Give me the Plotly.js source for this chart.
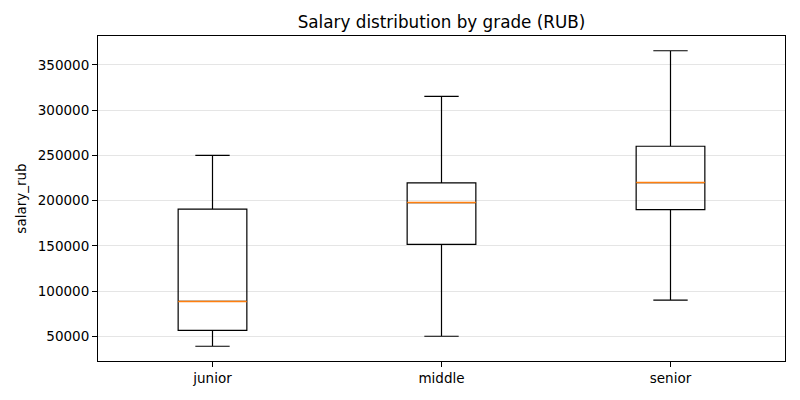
<!DOCTYPE html>
<html>
<head>
<meta charset="utf-8">
<script src="https://cdn.plot.ly/plotly-3.0.1.min.js"></script>
<style>
  html, body { margin: 0; padding: 0; background: #fff; }
  #chart { width: 800px; height: 400px; }
</style>
</head>
<body>
<div id="chart"></div>
<script>
(function() {
    'use strict';

    // Box statistics per grade
    var grades = ['junior', 'middle', 'senior'];
    var positions = [1, 2, 3];
    var lowerWhisker = [39000, 50000, 90000];
    var q1 = [56600, 151500, 190000];
    var median = [88500, 197800, 219900];
    var q3 = [190400, 219500, 260000];
    var upperWhisker = [250000, 315000, 365500];

    var boxWidth = 0.3;
    var font = { family: 'DejaVu Sans, sans-serif', size: 13.5, color: '#000000' };

    // Orange median segments drawn on top of the boxes
    var medX = [], medY = [];
    positions.forEach(function(p, i) {
        medX.push(p - boxWidth / 2, p + boxWidth / 2, null);
        medY.push(median[i], median[i], null);
    });

    var lo = Math.min.apply(null, lowerWhisker);
    var hi = Math.max.apply(null, upperWhisker);
    var pad = (hi - lo) * 0.05;

    var traces = [
        {
            type: 'box',
            x: positions,
            q1: q1,
            median: median,
            q3: q3,
            lowerfence: lowerWhisker,
            upperfence: upperWhisker,
            width: boxWidth,
            whiskerwidth: 0.5,
            boxpoints: false,
            fillcolor: 'rgba(255,255,255,0)',
            line: { color: '#000000', width: 1.2 },
            hoverinfo: 'skip',
            showlegend: false
        },
        {
            type: 'scatter',
            mode: 'lines',
            x: medX,
            y: medY,
            line: { color: '#ff7f0e', width: 1.5 },
            hoverinfo: 'skip',
            showlegend: false
        }
    ];

    var layout = {
        width: 800,
        height: 400,
        margin: { t: 36, r: 15, b: 39, l: 98 },
        paper_bgcolor: '#ffffff',
        plot_bgcolor: '#ffffff',
        font: font,
        title: {
            text: 'Salary distribution by grade (RUB)',
            font: { family: font.family, size: 16.8, color: '#000000' },
            xref: 'paper',
            x: 0.5,
            xanchor: 'center',
            yref: 'container',
            y: 0.945,
            yanchor: 'middle'
        },
        xaxis: {
            range: [0.5, 3.5],
            tickmode: 'array',
            tickvals: positions,
            ticktext: grades,
            ticks: 'outside',
            ticklen: 5,
            tickcolor: '#000000',
            showgrid: false,
            zeroline: false,
            showline: true,
            linecolor: '#000000',
            linewidth: 1,
            mirror: true,
            tickfont: font
        },
        yaxis: {
            range: [lo - pad, hi + pad],
            tickmode: 'linear',
            tick0: 0,
            dtick: 50000,
            tickformat: 'd',
            ticks: 'outside',
            ticklen: 5,
            tickcolor: '#000000',
            showgrid: true,
            gridcolor: '#e5e5e5',
            gridwidth: 1,
            zeroline: false,
            showline: true,
            linecolor: '#000000',
            linewidth: 1,
            mirror: true,
            tickfont: font,
            title: { text: 'salary_rub', font: font, standoff: 8 }
        },
        showlegend: false
    };

    Plotly.newPlot('chart', traces, layout, { displayModeBar: false, staticPlot: true });
})();
</script>
</body>
</html>
